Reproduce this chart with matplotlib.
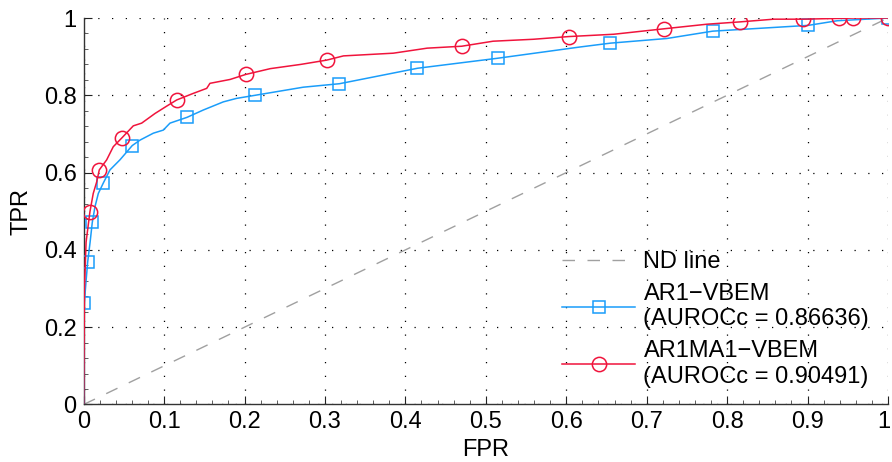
import matplotlib
matplotlib.use("Agg")
import matplotlib.pyplot as plt
from matplotlib.ticker import MultipleLocator
from matplotlib.lines import Line2D
from matplotlib.transforms import ScaledTranslation

plt.rcParams['font.family'] = ['Liberation Sans', 'DejaVu Sans']
plt.rcParams['font.size'] = 17

# ROC curve of AR1-VBEM: marked points and the points in between
ar1_mark_fpr = [0.0008, 0.005, 0.0107, 0.0244, 0.0604, 0.1285, 0.213, 0.318,
                0.415, 0.515, 0.655, 0.782, 0.901, 1.0]
ar1_mark_tpr = [0.263, 0.369, 0.471, 0.573, 0.670, 0.743, 0.800, 0.830,
                0.870, 0.896, 0.935, 0.966, 0.981, 1.0]
ar1_path_fpr = [0.0, 0.0004, 0.003, 0.008, 0.0141, 0.0182, 0.0327, 0.0451,
                0.070, 0.0866, 0.099, 0.1073, 0.1488, 0.1736, 0.190, 0.273,
                0.617, 0.725, 0.937]
ar1_path_tpr = [0.0, 0.20, 0.32, 0.42, 0.512, 0.546, 0.607, 0.633,
                0.684, 0.702, 0.710, 0.728, 0.762, 0.783, 0.792, 0.821,
                0.925, 0.947, 0.993]

# ROC curve of AR1MA1-VBEM
arma_mark_fpr = [0.0078, 0.0194, 0.0476, 0.1157, 0.2015, 0.302, 0.470, 0.603,
                 0.721, 0.816, 0.894, 0.939, 0.957, 1.0]
arma_mark_tpr = [0.499, 0.607, 0.690, 0.788, 0.854, 0.891, 0.927, 0.952,
                 0.972, 0.990, 0.997, 0.999, 1.0, 1.0]
arma_path_fpr = [0.0, 0.001, 0.003, 0.0119, 0.0162, 0.0286, 0.0368, 0.0617,
                 0.0721, 0.0887, 0.1032, 0.1363, 0.153, 0.157, 0.182, 0.232,
                 0.270, 0.323, 0.385, 0.427, 0.509, 0.559, 0.659, 0.775, 0.858]
arma_path_tpr = [0.0, 0.30, 0.42, 0.546, 0.576, 0.633, 0.667, 0.721,
                 0.728, 0.753, 0.772, 0.805, 0.818, 0.831, 0.841, 0.869,
                 0.880, 0.902, 0.909, 0.922, 0.940, 0.945, 0.958, 0.984, 0.997]

auroc_ar1 = 0.86636
auroc_arma = 0.90491

blue = '#1a9dfa'
red = '#f0143c'
gray = '#a0a0a0'


def merge(mx, my, px, py):
    pts = [(x, y, True) for x, y in zip(mx, my)] + [(x, y, False) for x, y in zip(px, py)]
    pts.sort(key=lambda p: (p[0], p[1]))
    xs = [p[0] for p in pts]
    ys = [p[1] for p in pts]
    marks = [i for i, p in enumerate(pts) if p[2]]
    return xs, ys, marks


fig = plt.figure(figsize=(8.92, 4.62), dpi=100)
ax = fig.add_axes([0.0938, 0.1245, 0.9017, 0.8365])

ax.plot([0, 1], [0, 1], color=gray, lw=1.0, dashes=(9, 9), zorder=2)

x1, y1, m1 = merge(ar1_mark_fpr, ar1_mark_tpr, ar1_path_fpr, ar1_path_tpr)
ax.plot(x1, y1, color=blue, lw=1.1, marker='s', markevery=m1, ms=8.4,
        mfc='none', mec=blue, mew=1.1, zorder=3)

x2, y2, m2 = merge(arma_mark_fpr, arma_mark_tpr, arma_path_fpr, arma_path_tpr)
ax.plot(x2, y2, color=red, lw=1.1, marker='o', markevery=m2, ms=10.3,
        mfc='none', mec=red, mew=1.1, zorder=4)

ax.set_xlim(0, 1)
ax.set_ylim(0, 1)
ax.xaxis.set_major_locator(MultipleLocator(0.1))
ax.yaxis.set_major_locator(MultipleLocator(0.2))
ax.xaxis.set_minor_locator(MultipleLocator(0.02))
ax.yaxis.set_minor_locator(MultipleLocator(0.04))


def fmt(v, _):
    s = f"{v:.1f}"
    if s == "0.0":
        return "0"
    if s == "1.0":
        return "1"
    return s


ax.xaxis.set_major_formatter(plt.FuncFormatter(fmt))
ax.yaxis.set_major_formatter(plt.FuncFormatter(fmt))

ax.tick_params(which='major', direction='in', length=6, width=0.8, colors='#222222',
               labelcolor='black')
ax.tick_params(axis='x', which='major', pad=5)
ax.tick_params(axis='y', which='major', pad=5)
ax.tick_params(which='minor', direction='in', length=3, width=0.6, colors='#444444')

ax.grid(True, which='major', color='black', lw=0.9, linestyle=(0, (1, 10)))
ax.set_axisbelow(True)

for side in ('top', 'right'):
    ax.spines[side].set_visible(False)
for side in ('left', 'bottom'):
    ax.spines[side].set_color('#333333')
    ax.spines[side].set_linewidth(1.0)

ax.set_xlabel('FPR', labelpad=4)
ax.set_ylabel('TPR', labelpad=8)

handles = [
    Line2D([], [], color=gray, lw=1.0, dashes=(9, 9)),
    Line2D([], [], color=blue, lw=1.1, marker='s', ms=8.4, mfc='none', mec=blue, mew=1.1),
    Line2D([], [], color=red, lw=1.1, marker='o', ms=10.3, mfc='none', mec=red, mew=1.1),
]
labels = [
    'ND line',
    f'AR1\u2212VBEM\n(AUROCc = {auroc_ar1:.5f})',
    f'AR1MA1\u2212VBEM\n(AUROCc = {auroc_arma:.5f})',
]
leg = ax.legend(handles, labels, loc='upper left', bbox_to_anchor=(0.595, 0.397),
                frameon=False, handlelength=3.1, handletextpad=0.34,
                labelspacing=0.42, borderaxespad=0.0, borderpad=0.0)

# nudge the label of the last x tick so it stays inside the canvas
fig.canvas.draw()
for t in ax.xaxis.get_major_ticks():
    if abs(t.get_loc() - 1.0) < 1e-9:
        lab = t.label1
        lab.set_transform(lab.get_transform() +
                          ScaledTranslation(-4 / 100, 0, fig.dpi_scale_trans))

fig.savefig('out.png', dpi=100)
